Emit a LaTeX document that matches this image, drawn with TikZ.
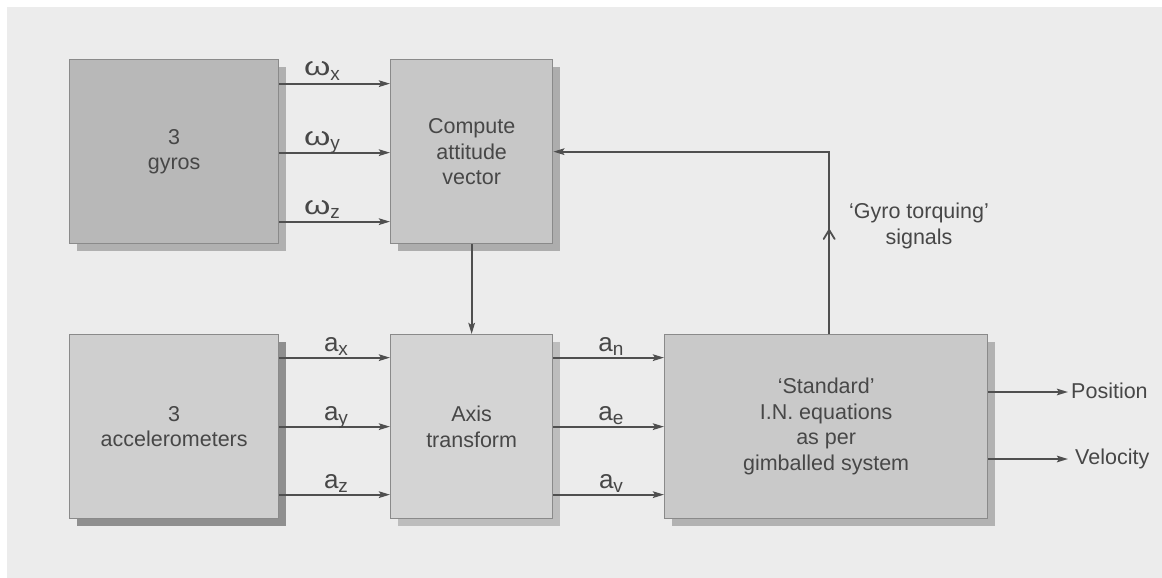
\documentclass[tikz,border=0pt]{standalone}
\usepackage{fontspec}
\setmainfont{Liberation Sans}
\usetikzlibrary{arrows.meta,shadows,calc}

\definecolor{bgpanel}{HTML}{ECECEC}
\definecolor{ink}{HTML}{474747}
\definecolor{wire}{HTML}{4F4F4F}
\definecolor{edge}{HTML}{8A8A8A}

% signal name with a lowered subscript letter
\newcommand{\sig}[2]{{\fontsize{26}{26}\selectfont #1\raisebox{-4.5pt}{\fontsize{19}{19}\selectfont #2}}}
\newcommand{\wideomega}{\scalebox{1.3}[1]{ω}}

\tikzset{
  blk/.style={draw=edge, line width=1.3pt, anchor=north west, inner sep=0pt,
    align=center, text=ink, font=\fontsize{21.5}{25.5}\selectfont},
  shade/.style={drop shadow={shadow xshift=7pt, shadow yshift=-7pt, opacity=1, fill=#1}},
  flow/.style={draw=wire, line width=2.1pt, -{Stealth[length=11pt,width=6.5pt,inset=2pt]}},
  chevron/.style={draw=wire, line width=1.8pt, line cap=round, line join=miter},
  siglab/.style={anchor=base, text=ink, inner sep=0pt},
  outlab/.style={anchor=west, text=ink, inner sep=0pt, font=\fontsize{21.5}{25.5}\selectfont}
}

\begin{document}
\begin{tikzpicture}[x=1pt,y=-1pt]
  % page and panel
  \fill[white] (0,0) rectangle (1162,578);
  \fill[bgpanel] (7,7) rectangle (1162,578);
  \useasboundingbox (0,0) rectangle (1162,578);

  % blocks
  \node[blk, shade=black!31, fill=black!28, minimum width=209pt, minimum height=184pt] (gyro) at (69,59) {3\\gyros};
  \node[blk, shade=black!32, fill=black!22, minimum width=162pt, minimum height=184pt] (att) at (390,59) {Compute\\attitude\\vector};
  \node[blk, shade=black!44, fill=black!19, minimum width=209pt, minimum height=184pt] (acc) at (69,334) {3\\accelerometers};
  \node[blk, shade=black!26, fill=black!17, minimum width=162pt, minimum height=184pt] (axt) at (390,334) {Axis\\transform};
  \node[blk, shade=black!30, fill=black!21, minimum width=323pt, minimum height=184pt] (ins) at (664,334) {`Standard'\\I.N. equations\\as per\\gimballed system};

  % angular rates into the attitude computation
  \draw[flow] ([yshift=68pt]gyro.east) coordinate (wx) -- (wx -| att.west);
  \draw[flow] ([yshift=-1pt]gyro.east) coordinate (wy) -- (wy -| att.west);
  \draw[flow] ([yshift=-70pt]gyro.east) coordinate (wz) -- (wz -| att.west);
  \node[siglab] (lwx) at (322,76) {\sig{\wideomega}{x}};
  \node[siglab] (lwy) at (322,145) {\sig{\wideomega}{y}};
  \node[siglab] (lwz) at (322,214) {\sig{\wideomega}{z}};

  % specific forces into the axis transform
  \draw[flow] ([yshift=69pt]acc.east) coordinate (ax) -- (ax -| axt.west);
  \draw[flow] ([yshift=0pt]acc.east) coordinate (ay) -- (ay -| axt.west);
  \draw[flow] ([yshift=-68pt]acc.east) coordinate (az) -- (az -| axt.west);
  \node[siglab] (lax) at (336,351) {\sig{a}{x}};
  \node[siglab] (lay) at (336,420) {\sig{a}{y}};
  \node[siglab] (laz) at (336,488) {\sig{a}{z}};

  % navigation-frame accelerations
  \draw[flow] ([yshift=69pt]axt.east) coordinate (an) -- (an -| ins.west);
  \draw[flow] ([yshift=0pt]axt.east) coordinate (ae) -- (ae -| ins.west);
  \draw[flow] ([yshift=-68pt]axt.east) coordinate (av) -- (av -| ins.west);
  \node[siglab] (lan) at (611,351) {\sig{a}{n}};
  \node[siglab] (lae) at (611,420) {\sig{a}{e}};
  \node[siglab] (lav) at (611,488) {\sig{a}{v}};

  % attitude into the axis transform
  \draw[flow] (att.south) -- (axt.north);

  % outputs
  \coordinate (pos) at (1068,392);
  \coordinate (vel) at (1068,459);
  \draw[flow] (pos -| ins.east) -- (pos);
  \draw[flow] (vel -| ins.east) -- (vel);
  \node[outlab] (lpos) at (1071,391) {Position};
  \node[outlab] (lvel) at (1075,459) {Velocity};

  % gyro torquing feedback, with an open chevron half way up
  \coordinate (fb0) at ([xshift=3pt]ins.north);
  \coordinate (fb1) at (fb0 |- att.east);
  \coordinate (fbtip) at ([yshift=104pt]fb0);
  \draw[flow] (fb0) -- (fb1) -- (att.east);
  \draw[chevron] ([xshift=-5.5pt,yshift=-9pt]fbtip) -- (fbtip) -- ([xshift=5.5pt,yshift=-9pt]fbtip);
  \node[text=ink, align=center, inner sep=0pt, font=\fontsize{21.5}{26}\selectfont] (ltq) at (919,226) {`Gyro torquing'\\signals};
\end{tikzpicture}
\end{document}
